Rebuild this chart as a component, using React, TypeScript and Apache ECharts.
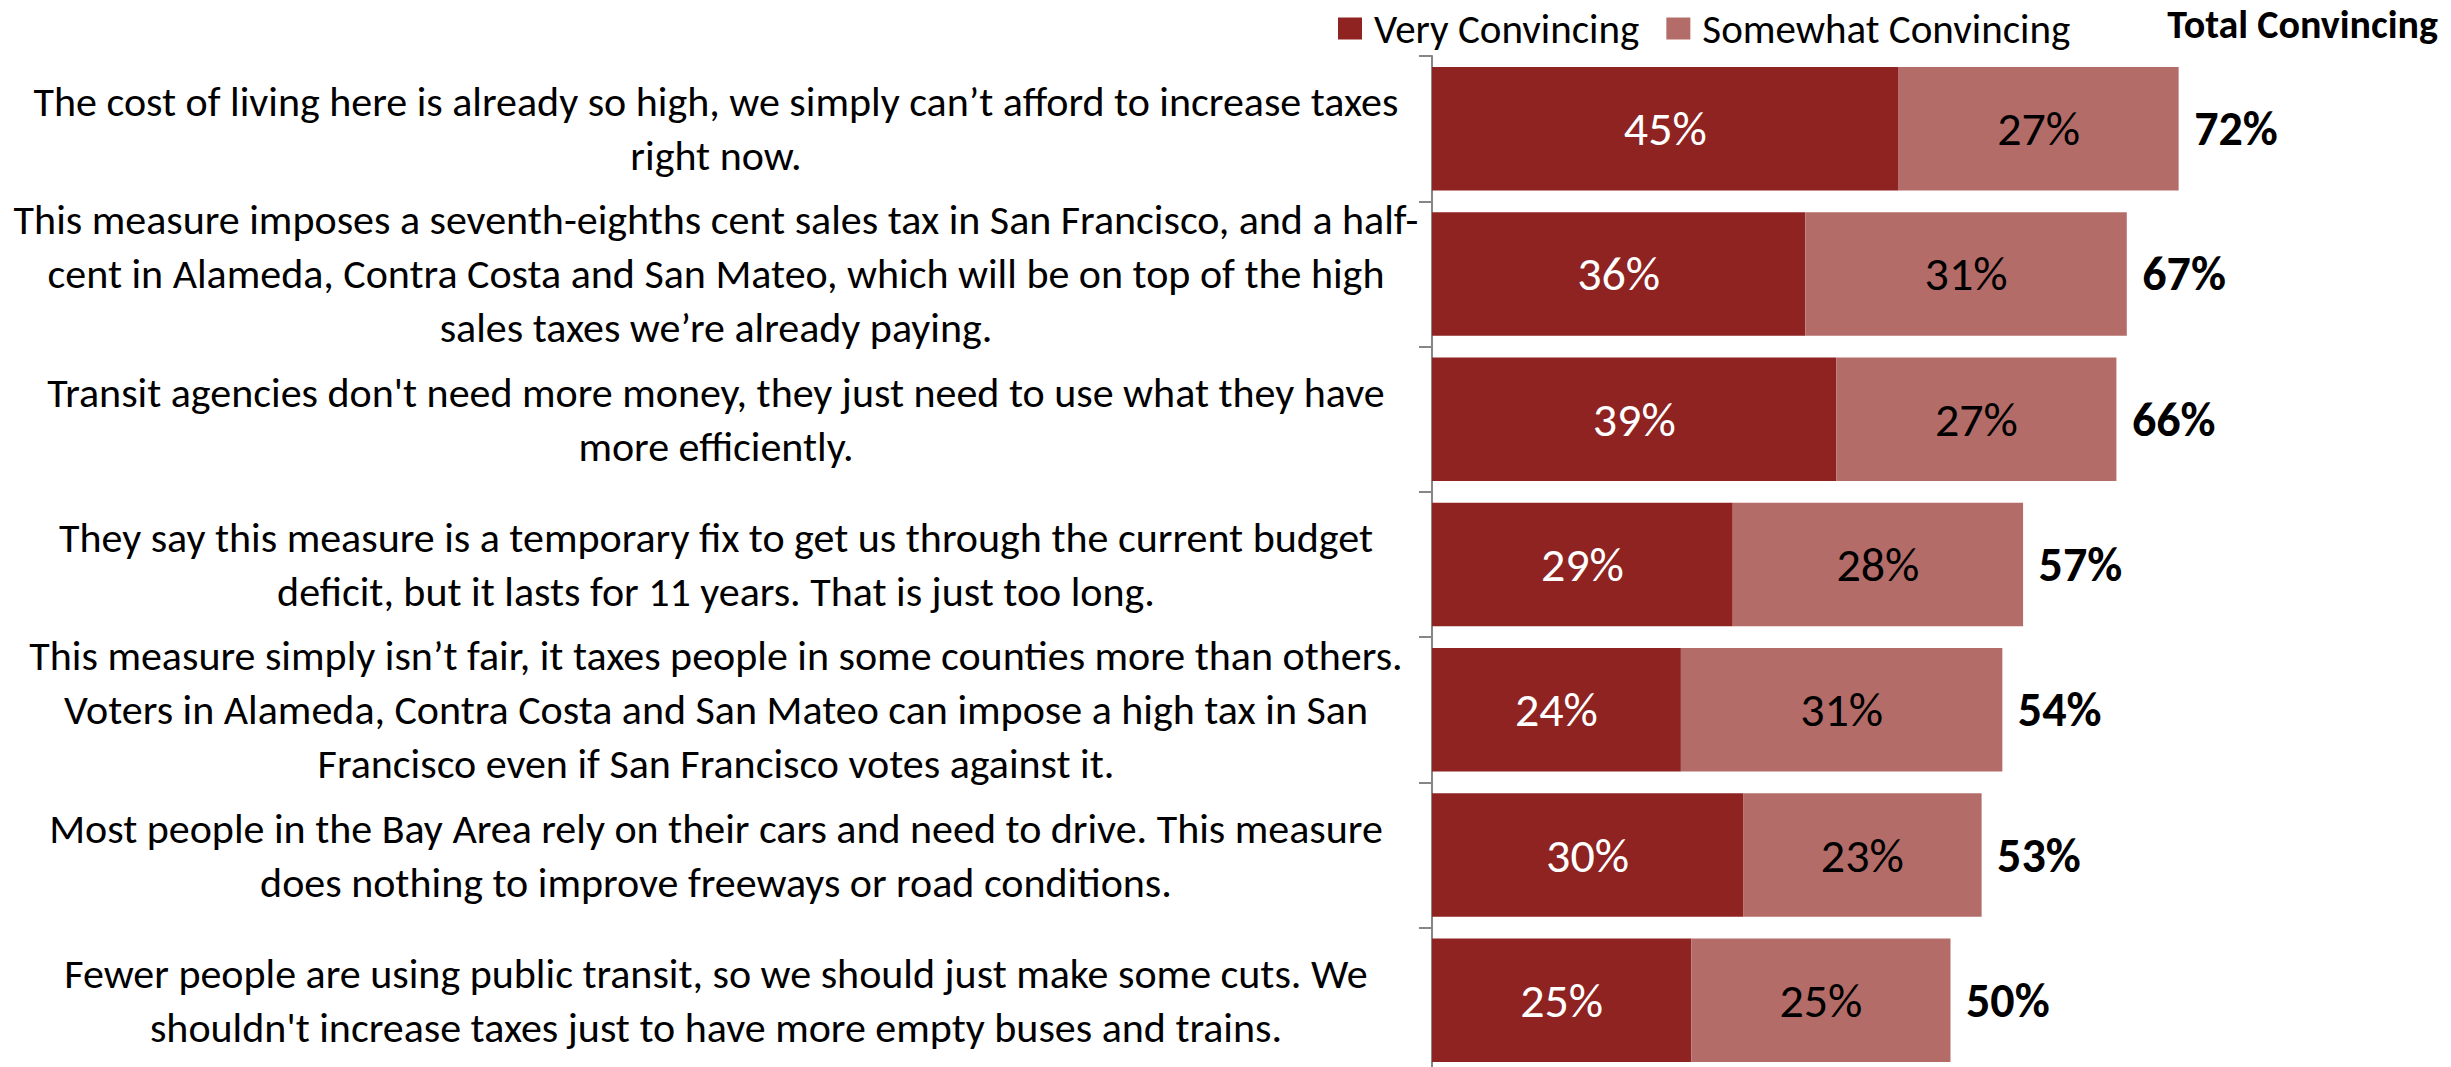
import React, { useEffect, useRef } from "react";
import * as echarts from "echarts";

const categories = [
  "The cost of living here is already so high, we simply can’t afford to increase taxes\nright now.",
  "This measure imposes a seventh-eighths cent sales tax in San Francisco, and a half-\ncent in Alameda, Contra Costa and San Mateo, which will be on top of the high\nsales taxes we’re already paying.",
  "Transit agencies don't need more money, they just need to use what they have\nmore efficiently.",
  "They say this measure is a temporary fix to get us through the current budget\ndeficit, but it lasts for 11 years. That is just too long.",
  "This measure simply isn’t fair, it taxes people in some counties more than others.\nVoters in Alameda, Contra Costa and San Mateo can impose a high tax in San\nFrancisco even if San Francisco votes against it.",
  "Most people in the Bay Area rely on their cars and need to drive. This measure\ndoes nothing to improve freeways or road conditions.",
  "Fewer people are using public transit, so we should just make some cuts. We\nshouldn't increase taxes just to have more empty buses and trains.",
];

const veryConvincing = [45, 36, 39, 29, 24, 30, 25];
const somewhatConvincing = [27, 31, 27, 28, 31, 23, 25];
const totalConvincing = [72, 67, 66, 57, 54, 53, 50];

const seriesNames = ["Very Convincing", "Somewhat Convincing"];
const totalTitle = "Total Convincing";

const DARK = "#8E2322";
const LIGHT = "#B46C69";
const FONT = "Carlito, Lato, 'Noto Sans', sans-serif";

export default function App() {
  const ref = useRef<HTMLDivElement>(null);

  useEffect(() => {
    if (!ref.current) return;
    const chart = echarts.init(ref.current, null, { renderer: "svg" });
    const totalPoints = categories.map((_, i) => [
      veryConvincing[i] + somewhatConvincing[i],
      i,
      totalConvincing[i],
    ]);
    chart.setOption({
      animation: false,
      backgroundColor: "#ffffff",
      textStyle: { fontFamily: FONT },
      legend: {
        left: 1333,
        top: 3,
        icon: "rect",
        itemWidth: 24,
        itemHeight: 22,
        itemGap: 27,
        data: seriesNames,
        selectedMode: false,
        textStyle: { fontFamily: FONT, fontSize: 41, color: "#000", padding: [0, 0, 0, 7] },
      },
      graphic: [
        {
          type: "text",
          right: 13,
          top: 4,
          style: {
            text: totalTitle,
            fontFamily: FONT,
            fontSize: 40,
            fontWeight: "bold",
            fill: "#000",
          },
        },
      ],
      grid: {
        left: 1432,
        top: 56,
        width: 1037,
        height: 1017,
        outerBoundsMode: "none",
        containLabel: false,
      },
      xAxis: {
        type: "value",
        min: 0,
        max: 100,
        show: false,
      },
      yAxis: {
        type: "category",
        data: categories,
        inverse: true,
        axisLine: { show: true, lineStyle: { color: "#868686", width: 2 } },
        axisTick: { show: true, length: 13, lineStyle: { color: "#868686", width: 2 } },
        axisLabel: {
          margin: 716,
          align: "center",
          fontFamily: FONT,
          fontSize: 42,
          lineHeight: 54,
          color: "#000",
          interval: 0,
        },
        splitLine: { show: false },
      },
      series: [
        {
          name: seriesNames[0],
          type: "bar",
          stack: "total",
          data: veryConvincing,
          barCategoryGap: "15%",
          itemStyle: { color: DARK },
          label: {
            show: true,
            position: "inside",
            formatter: "{c}%",
            color: "#fff",
            fontFamily: FONT,
            fontSize: 48,
          },
        },
        {
          name: seriesNames[1],
          type: "bar",
          stack: "total",
          data: somewhatConvincing,
          barCategoryGap: "15%",
          itemStyle: { color: LIGHT },
          label: {
            show: true,
            position: "inside",
            formatter: "{c}%",
            color: "#000",
            fontFamily: FONT,
            fontSize: 48,
          },
        },
        {
          name: totalTitle,
          type: "scatter",
          data: totalPoints,
          symbolSize: 1,
          itemStyle: { color: "rgba(0,0,0,0)", opacity: 1 },
          label: {
            show: true,
            position: "right",
            distance: 15,
            formatter: (p: any) => p.value[2] + "%",
            color: "#000",
            opacity: 1,
            fontFamily: FONT,
            fontWeight: "bold",
            fontSize: 48,
          },
        },
      ],
    });
    return () => chart.dispose();
  }, []);

  return (
    <div
      ref={ref}
      style={{ position: "absolute", left: 0, top: 0, width: 2451, height: 1067 }}
    />
  );
}
